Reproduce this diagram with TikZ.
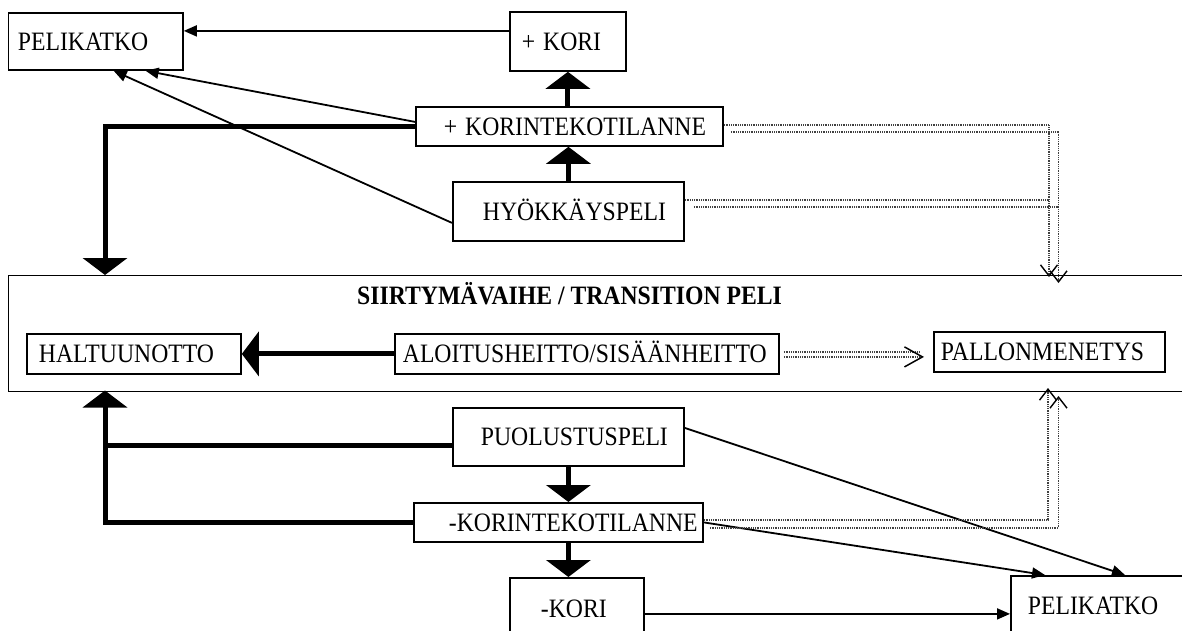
\documentclass[tikz,border=0pt]{standalone}
\usepackage{fontspec}
\setmainfont{Liberation Serif}
\usetikzlibrary{arrows.meta,calc}
\newcommand{\dfont}{\fontsize{23.7pt}{28pt}\selectfont}
\newcommand{\tallt}[1]{\scalebox{1}[1.12]{#1}}
\begin{document}
\begin{tikzpicture}[x=1pt,y=-1pt,
  box/.style={draw, line width=1.8pt, inner sep=0pt, text height=17.6pt, text depth=0pt, align=left, font=\dfont, anchor=north west},
  thickarr/.style={line width=5pt, -{Triangle[length=17pt,width=44pt]}},
  thinarr/.style={line width=1.8pt, -{Triangle[length=13pt,width=11pt]}},
  dotstrand/.style={draw=black!75, line width=1.3pt, dash pattern=on 1pt off 0.8pt},
  openarr/.style={-{Straight Barb[length=11pt,width=17pt,line width=1.4pt,color=black]}},
  bigopen/.style={-{Straight Barb[length=18pt,width=20pt,line width=1.5pt,color=black]}}]
\useasboundingbox (0,0) rectangle (1182,631);
\fill[white] (0,0) rectangle (1182,631);
\clip (0,0) rectangle (1182,631);

% boxes
\node[box, text width=174.5pt, minimum height=57pt] (pk1) at (7.5,12) {\hspace*{9.5pt}\tallt{PELIKATKO}};
\node[box, text width=116pt, minimum height=59pt] (korip) at (509,11) {\hspace*{12pt}\tallt{+ KORI}};
\node[box, text width=307pt, minimum height=39pt] (kp) at (415,106) {\hspace*{28pt}\tallt{+ KORINTEKOTILANNE}};
\node[box, text width=231pt, minimum height=59pt] (hy) at (452,181) {\hspace*{30pt}\tallt{HYÖKKÄYSPELI}};
\node[box, text width=1190pt, minimum height=116pt] (big) at (7.5,274.5) {};
\node[font=\dfont\bfseries, anchor=base west, inner sep=0pt] (title) at (357,304) {\tallt{SIIRTYMÄVAIHE / TRANSITION PELI}};
\node[box, text width=214pt, minimum height=40pt] (ht) at (26,333) {\hspace*{12pt}\tallt{HALTUUNOTTO}};
\node[box, text width=384pt, minimum height=40pt] (al) at (394,333) {\hspace*{8pt}\tallt{ALOITUSHEITTO/SISÄÄNHEITTO}};
\node[box, text width=231pt, minimum height=40pt] (pm) at (933,331) {\hspace*{7pt}\tallt{PALLONMENETYS}};
\node[box, text width=231pt, minimum height=58pt] (pu) at (452,407) {\hspace*{28pt}\tallt{PUOLUSTUSPELI}};
\node[box, text width=289pt, minimum height=39pt] (kn) at (413,502) {\hspace*{35pt}\tallt{-KORINTEKOTILANNE}};
\node[box, text width=134pt, minimum height=61pt] (km) at (509,577) {\hspace*{31pt}\tallt{-KORI}};
\node[box, text width=190pt, minimum height=60pt] (bp) at (1010,575) {\hspace*{17pt}\tallt{PELIKATKO}};

\coordinate (ltop) at (105,275);
\coordinate (lbot) at (105,390.5);
\coordinate (ta) at (1049,277);
\coordinate (tb) at (1058.5,283);
\coordinate (ba) at (1048,388);
\coordinate (bb) at (1058.5,396);

% thick connectors
\draw[thickarr] (hy.north) -- (hy.north |- kp.south);
\draw[thickarr] (korip.south |- kp.north) -- (korip.south);
\draw[thickarr] (pu.south) -- (pu.south |- kn.north);
\draw[thickarr] (pu.south |- kn.south) -- (pu.south |- km.north);
\draw[thickarr] (kp.west) -| (ltop);
\draw[thickarr] (kn.west) -| (lbot);
\draw[line width=5pt] ($(pu.west)+(0,-9pt)$) -- ($(pu.west -| lbot)+(0,-9pt)$);
\draw[thickarr] (al.west) -- (ht.east);

% thin connectors
\draw[thinarr] ($(korip.west)+(0,10.5pt)$) -- ($(korip.west -| pk1.east)+(0,10.5pt)$);
\draw[thinarr] ($(kp.west)+(0,4.5pt)$) -- ($(pk1.south)+(50pt,0)$);
\draw[thinarr] ($(hy.west)+(0,-11.5pt)$) -- ($(pk1.south)+(18pt,0)$);
\draw[thinarr] ($(pu.east)+(0,9pt)$) -- ($(bp.north west)+(115pt,0)$);
\draw[thinarr] (kn.east) -- ($(bp.north west)+(35pt,0)$);
\draw[thinarr] ($(km.east)+(0,-5.5pt)$) -- ($(km.east -| bp.west)+(0,-5.5pt)$);

% dotted double connectors
\draw[dotstrand, openarr] ($(kp.east)+(0,1.5pt)$) -| (ta);
\draw[dotstrand, openarr] ($(kp.east)+(7pt,-5.5pt)$) -| (tb);
\draw[dotstrand] ($(hy.east)+(0,11.5pt)$) -- ($(hy.east -| ta)+(0,11.5pt)$);
\draw[dotstrand] ($(hy.east)+(9pt,4.5pt)$) -- ($(hy.east -| tb)+(0,4.5pt)$);
\draw[dotstrand, openarr] ($(kn.east)+(0,2.5pt)$) -| (ba);
\draw[dotstrand, openarr] ($(kn.east)+(6pt,-5.5pt)$) -| (bb);
\draw[dotstrand] ($(al.east)+(4pt,2pt)$) -- ($(al.east -| pm.west)+(-14pt,2pt)$);
\draw[dotstrand, bigopen] ($(al.east)+(4pt,-3pt)$) -- ($(al.east -| pm.west)+(-9pt,-3pt)$);
\end{tikzpicture}
\end{document}
